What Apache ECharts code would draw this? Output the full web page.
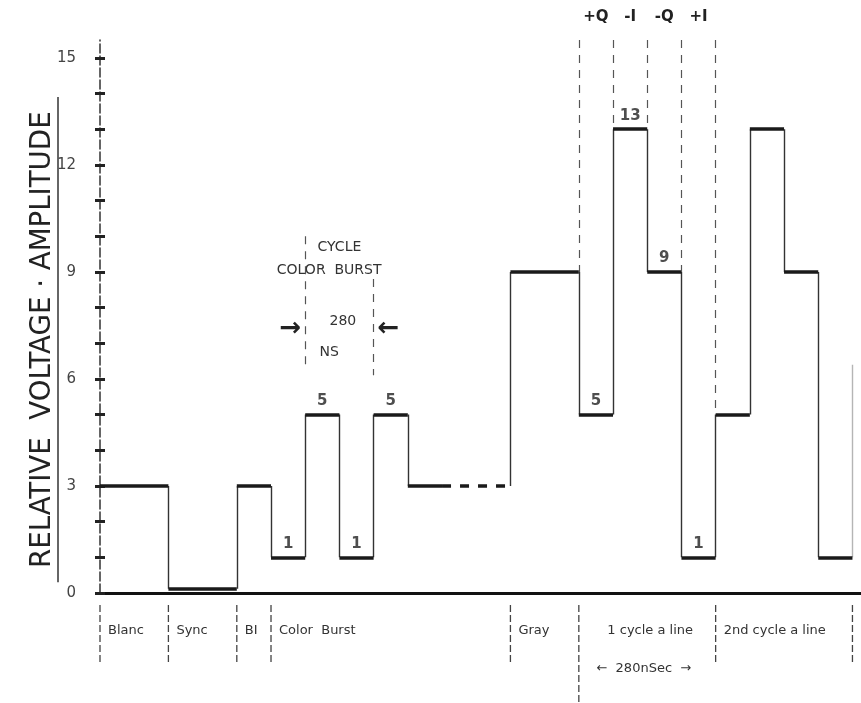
<!DOCTYPE html>
<html>
<head>
<meta charset="utf-8">
<script src="https://cdn.jsdelivr.net/npm/echarts@6/dist/echarts.min.js"></script>
<style>
html, body { margin: 0; padding: 0; background: #fff; }
#chart { width: 861px; height: 703px; }
</style>
</head>
<body>
<div id="chart"></div>
<script>
// time in half-cycles of the 3.58 MHz subcarrier (1 unit ~ 140 ns)
var edges = [0, 2, 4, 5, 6, 7, 8, 9, 12, 14, 15, 16, 17, 18, 19, 20, 21, 22];
var levels = [3, 0.12, 3, 1, 5, 1, 5, 3, 9, 5, 13, 9, 1, 5, 13, 9, 1];
var levelNotes = ['', '', '', '1', '5', '1', '5', '', '', '5', '13', '9', '1', '', '', '', ''];
var pedestalIndex = 7;      // the level-3 run after the burst
var pedestalDashFrom = 10;  // drawn dashed from here on
var tailLevel = 6.4;        // faint edge leaving the last step

var yMin = 0, yMax = 15.5;
var yTicks = [0, 1, 2, 3, 4, 5, 6, 7, 8, 9, 10, 11, 12, 13, 14, 15];
var yLabels = [0, 3, 6, 9, 12, 15];

var sectionEdges = [0, 2, 4, 5, 12, 14, 18, 22];
var sectionNames = ['Blanc', 'Sync', 'BI', 'Color  Burst', 'Gray', '1 cycle a line', '2nd cycle a line'];
var sectionStarts = [0, 2, 4, 5, 12, 14.6, 18];

var phaseEdges = [14, 15, 16, 17, 18];
var phaseNames = ['+Q', '-I', '-Q', '+I'];

var burstCycle = [6, 8];
var burstText = ['CYCLE', 'COLOR  BURST', '280', 'NS'];
var burstTextAt = [[7, 9.7], [6.7, 9.05], [7.1, 7.6], [6.7, 6.75]];

var chart = echarts.init(document.getElementById('chart'));

var flats = [], rises = [], dashed = [], notes = [], guides = [];
for (var i = 0; i < levels.length; i++) {
  var a = edges[i], b = edges[i + 1];
  if (i == pedestalIndex) {
    flats.push({coords: [[a, levels[i]], [pedestalDashFrom, levels[i]]]});
    dashed.push({coords: [[pedestalDashFrom, levels[i]], [b, levels[i]]]});
  } else {
    flats.push({coords: [[a, levels[i]], [b, levels[i]]]});
  }
  var next = i < levels.length - 1 ? levels[i + 1] : tailLevel;
  rises.push({coords: [[b, levels[i]], [b, next]],
    lineStyle: i < levels.length - 1 ? {} : {color: '#b5b5b5'}});
  if (levelNotes[i]) notes.push({value: [(a + b) / 2, levels[i]], name: levelNotes[i]});
}
phaseEdges.forEach(function (x) {
  var k = edges.indexOf(x);
  guides.push({coords: [[x, yMax], [x, Math.max(levels[k - 1], levels[k])]]});
});
guides.push({coords: [[burstCycle[0], 10.0], [burstCycle[0], 6.4]]});
guides.push({coords: [[burstCycle[1], 8.8], [burstCycle[1], 6.1]]});

var font = "'DejaVu Sans', sans-serif";

chart.setOption({
  backgroundColor: '#fff',
  animation: false,
  grid: {left: 100, right: 0, top: 40, bottom: 110},
  xAxis: {
    type: 'value', min: 0, max: 22.25,
    axisLine: {onZero: false, lineStyle: {color: '#111', width: 3}},
    axisTick: {show: false}, axisLabel: {show: false}, splitLine: {show: false}
  },
  yAxis: [{
    type: 'value', min: yMin, max: yMax,
    axisLine: {show: true, lineStyle: {color: '#333', width: 1.5, type: [9, 3]}},
    axisTick: {show: true, length: 5, customValues: yTicks, lineStyle: {color: '#222', width: 3}},
    axisLabel: {margin: 24, color: '#444', fontSize: 15, fontFamily: font, customValues: yLabels},
    splitLine: {show: false}
  }, {
    type: 'value', min: yMin, max: yMax, position: 'left',
    axisLine: {show: false},
    axisTick: {show: true, inside: true, length: 5, customValues: yTicks, lineStyle: {color: '#222', width: 3}},
    axisLabel: {show: false}, splitLine: {show: false}
  }],
  series: [{
    type: 'lines', coordinateSystem: 'cartesian2d', silent: true,
    data: rises, lineStyle: {color: '#333', width: 1.4, opacity: 1}
  }, {
    type: 'lines', coordinateSystem: 'cartesian2d', silent: true,
    data: flats, lineStyle: {color: '#1a1a1a', width: 3.5, opacity: 1}
  }, {
    type: 'lines', coordinateSystem: 'cartesian2d', silent: true,
    data: dashed, lineStyle: {color: '#1a1a1a', width: 3.5, opacity: 1, type: [9, 9]}
  }, {
    type: 'lines', coordinateSystem: 'cartesian2d', silent: true,
    data: guides, lineStyle: {color: '#555', width: 1.2, opacity: 1, type: [8, 7]}
  }, {
    type: 'scatter', symbolSize: 0, silent: true,
    data: notes,
    label: {show: true, position: 'top', distance: 6, formatter: '{b}',
      color: '#222', fontSize: 15, fontWeight: 'bold', fontFamily: font}
  }]
});

// annotation layer placed through the axes
function px(x, y) { return chart.convertToPixel({gridIndex: 0}, [x, y]); }
var g = [];
var base = px(0, 0)[1];
sectionEdges.forEach(function (x) {
  var p = px(x, 0);
  var tall = x == 14 ? 112 : 72;
  g.push({type: 'line', shape: {x1: p[0], y1: base + 12, x2: p[0], y2: base + tall},
    style: {stroke: '#444', lineWidth: 1.3, lineDash: [7, 3]}});
});
sectionNames.forEach(function (s, i) {
  var p = px(sectionStarts[i], 0);
  g.push({type: 'text', x: p[0] + 8, y: base + 38,
    style: {text: s, fill: '#333', font: '13px ' + font, verticalAlign: 'middle'}});
});
var mid = px(15.9, 0);
g.push({type: 'text', x: mid[0], y: base + 76,
  style: {text: '\u2190  280nSec  \u2192', fill: '#333', font: '13px ' + font,
    align: 'center', verticalAlign: 'middle'}});
phaseNames.forEach(function (s, i) {
  var p = px((phaseEdges[i] + phaseEdges[i + 1]) / 2, 0);
  g.push({type: 'text', x: p[0], y: 17,
    style: {text: s, fill: '#222', font: 'bold 15px ' + font, align: 'center', verticalAlign: 'middle'}});
});
burstText.forEach(function (s, i) {
  var p = px(burstTextAt[i][0], burstTextAt[i][1]);
  g.push({type: 'text', x: p[0], y: p[1],
    style: {text: s, fill: '#333', font: '14px ' + font, align: 'center', verticalAlign: 'middle'}});
});
var la = px(burstCycle[0], 7.4), ra = px(burstCycle[1], 7.4);
g.push({type: 'text', x: la[0] - 4, y: la[1],
  style: {text: '\u2192', fill: '#222', font: 'bold 26px ' + font, align: 'right', verticalAlign: 'middle'}});
g.push({type: 'text', x: ra[0] + 4, y: ra[1],
  style: {text: '\u2190', fill: '#222', font: 'bold 26px ' + font, align: 'left', verticalAlign: 'middle'}});

// axis title, rotated and underlined
var titleTop = px(0, 13.9)[1], titleBot = px(0, 0.3)[1];
g.push({type: 'text', x: 42, y: (titleTop + titleBot) / 2, rotation: Math.PI / 2, scaleX: 1.06,
  style: {text: 'RELATIVE  VOLTAGE · AMPLITUDE', fill: '#222',
    font: "29px 'DejaVu Sans Condensed', sans-serif",
    align: 'center', verticalAlign: 'middle'}});
g.push({type: 'line', shape: {x1: 58, y1: titleTop, x2: 58, y2: titleBot},
  style: {stroke: '#333', lineWidth: 1.5}});

chart.setOption({graphic: g});
</script>
</body>
</html>
